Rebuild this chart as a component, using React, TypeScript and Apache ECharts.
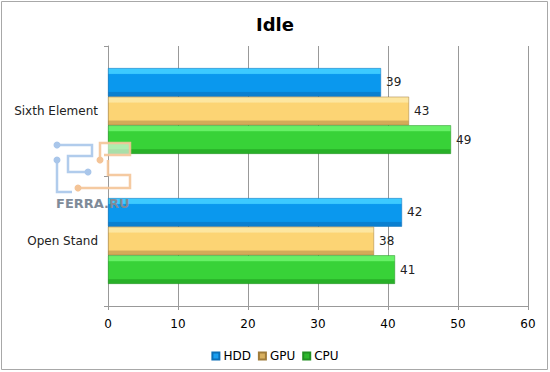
import React, { useEffect, useRef } from "react";
import * as echarts from "echarts";

const categories = ["Sixth Element", "Open Stand"];
const seriesNames = ["HDD", "GPU", "CPU"];
const hddValues = [39, 42];
const gpuValues = [43, 38];
const cpuValues = [49, 41];
const xTicks = [0, 10, 20, 30, 40, 50, 60];

const FONT = "DejaVu Sans, Verdana, sans-serif";

function grad(light: string, main: string, dark: string) {
  return new echarts.graphic.LinearGradient(0, 0, 0, 1, [
    { offset: 0, color: light },
    { offset: 0.18, color: light },
    { offset: 0.22, color: main },
    { offset: 0.82, color: main },
    { offset: 0.86, color: dark },
    { offset: 1, color: dark },
  ]);
}

const BLUE = "#a9c6ea";
const ORANGE = "#f4c497";

export default function App() {
  const ref = useRef<HTMLDivElement>(null);
  useEffect(() => {
    document.body.style.margin = "0";
    const chart = echarts.init(ref.current!, null, { renderer: "svg" });
    const styles = [
      { c: grad("#3ccaff", "#0a98ee", "#0a7fd0"), legend: "#1a9ff0", border: "#0b6fb8" },
      { c: grad("#fde6a0", "#fcd474", "#d4aa58"), legend: "#d8b060", border: "#a07c3a" },
      { c: grad("#66f066", "#38d238", "#28b028"), legend: "#2eb82e", border: "#229022" },
    ];
    const datas = [hddValues, gpuValues, cpuValues];
    const lineStyle = (c: string) => ({ stroke: c, lineWidth: 2.5, fill: "none", opacity: 0.9 });
    const logo: any[] = [
      { type: "rect", shape: { x: 98, y: 143, width: 32, height: 12 }, style: { fill: "rgba(255,255,255,0.6)" } },
      { type: "polyline", shape: { points: [[57, 145], [92, 145], [92, 156], [68, 156], [68, 172], [88, 172]] }, style: lineStyle(BLUE) },
      { type: "polyline", shape: { points: [[57, 160], [57, 192], [72, 192]] }, style: lineStyle(BLUE) },
      { type: "circle", shape: { cx: 57, cy: 145, r: 3.5 }, style: { fill: BLUE } },
      { type: "circle", shape: { cx: 57, cy: 160, r: 3.5 }, style: { fill: BLUE } },
      { type: "circle", shape: { cx: 88, cy: 172, r: 3.5 }, style: { fill: BLUE } },
      { type: "polyline", shape: { points: [[100, 159], [100, 143], [130, 143], [130, 155], [104, 155]] }, style: lineStyle(ORANGE) },
      { type: "polyline", shape: { points: [[108, 160], [108, 175], [130, 175], [130, 188], [78, 188]] }, style: lineStyle(ORANGE) },
      { type: "circle", shape: { cx: 100, cy: 160, r: 3.5 }, style: { fill: ORANGE } },
      { type: "circle", shape: { cx: 78, cy: 188, r: 3.5 }, style: { fill: ORANGE } },
      {
        type: "text",
        x: 56,
        y: 197,
        style: { text: "FERRA.RU", fill: "#7f8b99", font: "bold 13px " + FONT },
      },
    ].map((e) => ({ ...e, z: 50 }));
    chart.setOption({
      animation: false,
      backgroundColor: "#ffffff",
      title: {
        text: "Idle",
        left: "center",
        top: 10,
        textStyle: { fontFamily: FONT, fontWeight: "bold", fontSize: 18, color: "#000" },
      },
      legend: {
        top: 345,
        left: "center",
        itemWidth: 7,
        itemHeight: 7,
        itemGap: 7,
        icon: "rect",
        textStyle: { fontFamily: FONT, fontSize: 12, color: "#000", padding: [0, 0, 0, -1] },
        data: seriesNames.map((n, i) => ({ name: n, itemStyle: { color: styles[i].legend } })),
      },
      grid: { left: 108, right: 22, top: 46, bottom: 66, containLabel: false },
      xAxis: {
        type: "value",
        min: xTicks[0],
        max: xTicks[xTicks.length - 1],
        interval: 10,
        axisLine: { show: true, lineStyle: { color: "#999" } },
        axisTick: { show: true, length: 4, lineStyle: { color: "#999" } },
        axisLabel: { fontFamily: FONT, fontSize: 12, color: "#000", margin: 12 },
        splitLine: { show: true, lineStyle: { color: "#999", width: 1 } },
      },
      yAxis: {
        type: "category",
        data: categories,
        inverse: true,
        axisLine: { show: true, lineStyle: { color: "#999" } },
        axisTick: { show: true, length: 4, lineStyle: { color: "#999" } },
        axisLabel: { fontFamily: FONT, fontSize: 12, color: "#222", margin: 10 },
      },
      series: seriesNames.map((n, i) => ({
        name: n,
        type: "bar",
        data: datas[i],
        barCategoryGap: "34%",
        barGap: "0%",
        itemStyle: { color: styles[i].c, borderColor: styles[i].border, borderWidth: 0.5 },
        label: {
          show: true,
          position: "right",
          distance: 5,
          fontFamily: FONT,
          fontSize: 12,
          color: "#222",
        },
      })),
      graphic: [
        {
          type: "rect",
          shape: { x: 1.5, y: 1.5, width: 546, height: 368 },
          style: { fill: "none", stroke: "#a8a8a8", lineWidth: 1 },
          z: 100,
        },
        ...logo,
      ],
    });
    return () => chart.dispose();
  }, []);
  return <div ref={ref} style={{ width: 550, height: 372 }} />;
}
